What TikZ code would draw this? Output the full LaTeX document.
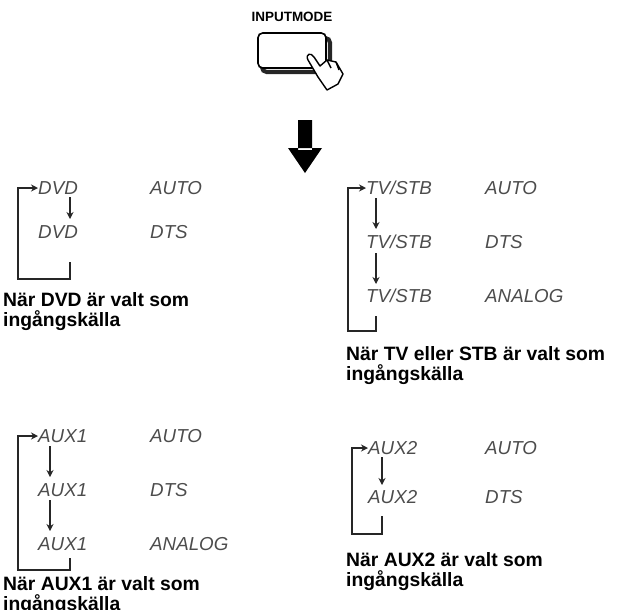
\documentclass[tikz,border=0pt]{standalone}
\usepackage{fontspec}
\setmainfont{Liberation Sans}
\usetikzlibrary{arrows.meta}

\begin{document}
\begin{tikzpicture}[
    x=0.3mm, y=-0.3mm,
    lcd/.style={anchor=west, inner sep=0pt, font=\fontsize{16}{16}\selectfont\itshape, text=black!70},
    caption/.style={anchor=north west, inner sep=0pt, align=left, font=\fontsize{16.5}{17}\selectfont\bfseries},
    nextmode/.style={-{Stealth[length=6pt,width=6pt]}, line width=1.6pt, black!85},
    backloop/.style={-{Stealth[length=6pt,width=6pt]}, line width=1.6pt, black!85}
]

  \useasboundingbox (0,0) rectangle (618,609);

  % Define variables for better adjustability
  \def\rowSep{54}     % vertical distance between display rows

  % Button with label and hand
  \node[inner sep=0pt, font=\fontsize{11.5}{12}\selectfont\bfseries] (Label) at (292,17) {INPUTMODE};
  \draw[line width=3.5pt, black!85, rounded corners=4pt] (262,38) rectangle (330,72);
  \draw[line width=1.4pt, fill=white, rounded corners=4pt] (258,33) rectangle (326,68);
  \draw[line width=1.2pt, fill=white, line join=round]
    (318,77) -- (308,60) .. controls (305,54) and (311,52) .. (314,57)
    -- (320,66) -- (327,60) -- (336,62) -- (343,74) -- (338,84) -- (327,90) -- cycle;
  \draw[line width=1.2pt] (327,60) -- (331,68) (336,62) -- (339,70);

  % Big down arrow
  \fill (298,120) rectangle (312,150) (288,148) -- (322,148) -- (305,173) -- cycle;

  % DVD group
  \node[lcd] (D1) at (38,188) {DVD};
  \node[lcd] at (150,188) {AUTO};
  \node[lcd] (D2) at (38,232) {DVD};
  \node[lcd] at (150,232) {DTS};
  \coordinate (D2b) at (70,262);
  \draw[nextmode] (70,197) -- (70,219);
  \draw[backloop] (D2b) -- (70,279) -| (18,188) -- (D1.west);
  \node[caption] (DVDcap) at (3,292) {När DVD är valt som\\ingångskälla};

  % TV/STB group
  \node[lcd] (T1) at (366,188) {TV/STB};
  \node[lcd] at (485,188) {AUTO};
  \node[lcd] (T2) at (366,188+\rowSep) {TV/STB};
  \node[lcd] at (485,188+\rowSep) {DTS};
  \node[lcd] (T3) at (366,188+2*\rowSep) {TV/STB};
  \node[lcd] at (485,188+2*\rowSep) {ANALOG};
  \coordinate (T3b) at (376,316);
  \draw[nextmode] (376,198) -- (376,229);
  \draw[nextmode] (376,253) -- (376,284);
  \draw[backloop] (T3b) -- (376,331) -| (348,188) -- (T1.west);
  \node[caption] (TVcap) at (346,346) {När TV eller STB är valt som\\ingångskälla};

  % AUX1 group
  \node[lcd] (A1) at (38,436) {AUX1};
  \node[lcd] at (150,436) {AUTO};
  \node[lcd] (A2) at (38,436+\rowSep) {AUX1};
  \node[lcd] at (150,436+\rowSep) {DTS};
  \node[lcd] (A3) at (38,436+2*\rowSep) {AUX1};
  \node[lcd] at (150,436+2*\rowSep) {ANALOG};
  \coordinate (A3b) at (70,558);
  \draw[nextmode] (50,446) -- (50,477);
  \draw[nextmode] (50,500) -- (50,531);
  \draw[backloop] (A3b) -- (70,570) -| (18,436) -- (A1.west);
  \node[caption] (AUX1cap) at (3,576) {När AUX1 är valt som\\ingångskälla};

  % AUX2 group
  \node[lcd] (B1) at (368,448) {AUX2};
  \node[lcd] at (485,448) {AUTO};
  \node[lcd] (B2) at (368,497) {AUX2};
  \node[lcd] at (485,497) {DTS};
  \coordinate (B2b) at (382,516);
  \draw[nextmode] (382,457) -- (382,485);
  \draw[backloop] (B2b) -- (382,534) -| (352,448) -- (B1.west);
  \node[caption] (AUX2cap) at (346,552) {När AUX2 är valt som\\ingångskälla};

\end{tikzpicture}
\end{document}
